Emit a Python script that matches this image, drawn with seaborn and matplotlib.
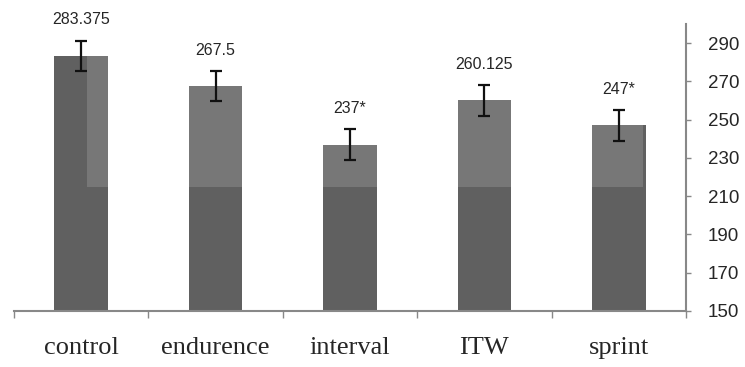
import numpy as np
import pandas as pd
import seaborn as sns
import matplotlib.pyplot as plt
import matplotlib.transforms as mtransforms
from matplotlib.patches import Rectangle

groups = ['control', 'endurence', 'interval', 'ITW', 'sprint']
means = [283.375, 267.5, 237, 260.125, 247]
errors = [8, 8, 8, 8, 8]
value_labels = ['283.375', '267.5', '237*', '260.125', '247*']
yticks = [150, 170, 190, 210, 230, 250, 270, 290]

sns.set_style('white')
plt.rcParams['font.family'] = ['Liberation Sans', 'DejaVu Sans']

df = pd.DataFrame({'group': groups, 'mean': means})

fig = plt.figure(figsize=(7.45, 3.67), dpi=100)
ax = fig.add_axes([0.0188, 0.1526, 0.902, 0.782])

sns.barplot(data=df, x='group', y='mean', color='#606060', saturation=1,
            width=0.4, linewidth=0, ax=ax, zorder=1)

# light band over upper part of bars (as in the scanned figure)
trans = mtransforms.blended_transform_factory(ax.transAxes, ax.transData)
ax.add_patch(Rectangle((0.109, 215), 0.827, 100, transform=trans,
                       facecolor='white', alpha=0.15, edgecolor='none', zorder=2))

ax.errorbar(range(len(groups)), means, yerr=errors, fmt='none', ecolor='#111111',
            elinewidth=1.6, capsize=4.5, capthick=1.6, zorder=3)

for i, (m, e, lab) in enumerate(zip(means, errors, value_labels)):
    ax.annotate(lab, (i, m + e), xytext=(0, 15), textcoords='offset points',
                ha='center', va='center', fontsize=11.5, annotation_clip=False)

ax.set_ylim(150, 300)
ax.set_xlim(-0.5, 4.5)
ax.yaxis.tick_right()
ax.set_yticks(yticks)
ax.set_yticklabels([str(t) for t in yticks], fontsize=13.5)
ax.tick_params(axis='y', which='major', length=3.5, width=1, color='#888888',
               direction='out', pad=12, right=True, left=False)

ax.set_xticks(range(len(groups)))
ax.set_xticklabels(groups, fontsize=19, family=['Liberation Serif'])
ax.set_xticks(np.arange(-0.5, 5, 1), minor=True)
ax.tick_params(axis='x', which='major', length=0, pad=19)
ax.tick_params(axis='x', which='minor', length=5, width=1, color='#888888',
               direction='out', bottom=True)

ax.set_xlabel('')
ax.set_ylabel('')
for s in ['left', 'top']:
    ax.spines[s].set_visible(False)
for s in ['right', 'bottom']:
    ax.spines[s].set_color('#888888')
    ax.spines[s].set_linewidth(1.5)

fig.savefig('out.png', dpi=100)
